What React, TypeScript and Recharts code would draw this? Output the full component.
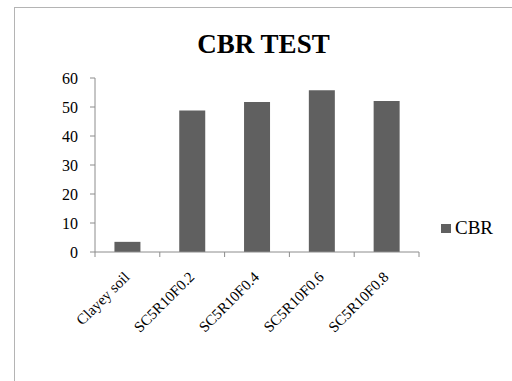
import { BarChart, Bar, XAxis, YAxis } from "recharts"

const categories = ["Clayey soil", "SC5R10F0.2", "SC5R10F0.4", "SC5R10F0.6", "SC5R10F0.8"]
const cbrValues = [3.5, 48.8, 51.7, 55.8, 52.1]
const yTicks = [0, 10, 20, 30, 40, 50, 60]

const data = categories.map((name, i) => ({ name, CBR: cbrValues[i] }))

const SERIF = "Liberation Serif, Tinos, Times New Roman, DejaVu Serif, Noto Serif, serif"
const AXIS = "#8c8c8c"
const BAR = "#606060"

// category labels sit between boundary ticks, like Excel does
function CategoryTick(props: any) {
  const { x, y, payload, index, visibleTicksCount } = props
  const half = payload?.offset ?? 0
  const tx = x + 3
  const ty = y + 26
  return (
    <g>
      <line x1={x - half} x2={x - half} y1={y} y2={y + 5} stroke={AXIS} />
      {index === visibleTicksCount - 1 && (
        <line x1={x + half} x2={x + half} y1={y} y2={y + 5} stroke={AXIS} />
      )}
      <text
        x={tx}
        y={ty}
        transform={`rotate(-45, ${tx}, ${ty})`}
        textAnchor="end"
        style={{ fontFamily: SERIF }}
        fontSize={15}
        fill="#000"
      >
        {payload.value}
      </text>
    </g>
  )
}

export default function App() {
  return (
    <div style={{ position: "absolute", left: 0, top: 0, width: 512, height: 381, overflow: "hidden", background: "#fff", fontFamily: SERIF }}>
      <div
        style={{
          position: "absolute",
          left: 14,
          top: 7,
          width: 600,
          height: 600,
          border: "1px solid #b4b4b4",
        }}
      />
      <div
        style={{
          position: "absolute",
          left: 0,
          width: 527,
          top: 27,
          textAlign: "center",
          fontWeight: "bold",
          fontSize: 27,
          lineHeight: "34px",
        }}
      >
        CBR TEST
      </div>
      <div style={{ position: "absolute", left: 0, top: 0 }}>
        <BarChart
          width={512}
          height={381}
          data={data}
          margin={{ top: 78, right: 93, bottom: 9, left: 35 }}
          barCategoryGap="30%"
          style={{ fontFamily: SERIF }}
        >
          <XAxis
            dataKey="name"
            stroke={AXIS}
            tickLine={false}
            tickSize={0}
            tickMargin={0}
            interval={0}
            height={120}
            tick={<CategoryTick />}
          />
          <YAxis
            domain={[0, 60]}
            ticks={yTicks}
            width={60}
            stroke={AXIS}
            tickSize={5}
            tickMargin={12}
            tick={{ fontSize: 16, fill: "#000", style: { fontFamily: SERIF } }}
          />
          <Bar dataKey="CBR" fill={BAR} isAnimationActive={false} />
        </BarChart>
      </div>
      <div
        style={{
          position: "absolute",
          left: 441,
          top: 216,
          display: "flex",
          alignItems: "center",
          fontSize: 19,
          lineHeight: "24px",
        }}
      >
        <span style={{ display: "inline-block", width: 10, height: 9, background: BAR, marginRight: 4 }} />
        CBR
      </div>
    </div>
  )
}
